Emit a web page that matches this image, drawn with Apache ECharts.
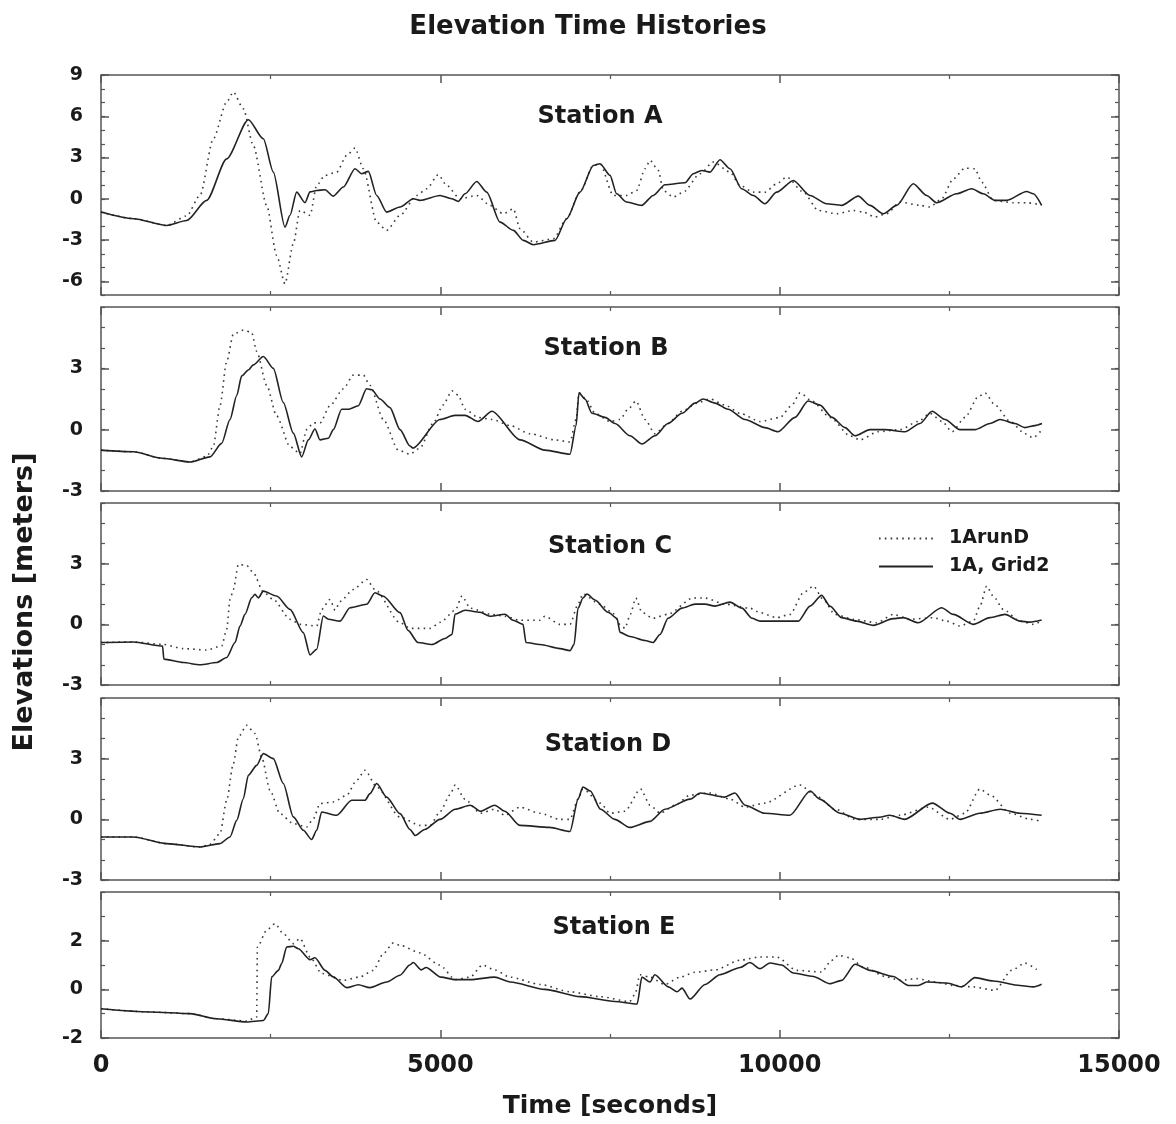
<!DOCTYPE html>
<html>
<head>
<meta charset="utf-8">
<title>Elevation Time Histories</title>
<script src="https://cdn.jsdelivr.net/npm/echarts@6/dist/echarts.min.js"></script>
<style>
  html, body { margin: 0; padding: 0; background: #fff; }
  #chart { width: 1176px; height: 1124px; }
</style>
</head>
<body>
<div id="chart"></div>
<script>
// ---- data: [time (s), elevation (m)] ----
const stationNames = ['Station A', 'Station B', 'Station C', 'Station D', 'Station E'];
const seriesNames = ['1ArunD', '1A, Grid2'];
const xTickLabels = [0, 5000, 10000, 15000];

const yLimitsA = [-7, 9], yLimitsB = [-3, 6], yLimitsC = [-3, 6], yLimitsD = [-3, 6], yLimitsE = [-2, 4];
const yTickLabelsA = [-6, -3, 0, 3, 6, 9];
const yTickLabelsB = [-3, 0, 3];
const yTickLabelsC = [-3, 0, 3];
const yTickLabelsD = [-3, 0, 3];
const yTickLabelsE = [-2, 0, 2];

const grid2A = [[0,-0.97],[480,-1.45],[968,-1.94],[1262,-1.58],[1557,-0.12],[1852,2.9],[2171,5.75],[2392,4.36],[2539,1.94],[2711,-2.06],[2785,-1.2],[2883,0.48],[3006,-0.29],[3080,0.5],[3178,0.6],[3301,0.65],[3423,0.19],[3571,0.85],[3743,2.18],[3841,1.82],[3939,1.99],[4062,0.24],[4209,-0.97],[4406,-0.6],[4603,0],[4700,-0.12],[4995,0.24],[5167,0],[5265,-0.19],[5364,0.36],[5536,1.26],[5683,0.48],[5880,-1.7],[6076,-2.3],[6223,-3.03],[6370,-3.34],[6690,-3.03],[6862,-1.45],[7058,0.48],[7255,2.42],[7353,2.55],[7500,1.7],[7598,0.36],[7745,-0.24],[7966,-0.48],[8138,0.24],[8310,1.02],[8605,1.16],[8728,1.82],[8851,2.06],[8974,1.94],[9121,2.84],[9268,2.18],[9440,0.73],[9612,0.24],[9784,-0.36],[9955,0.48],[10201,1.33],[10447,0.24],[10692,-0.36],[10913,-0.48],[11159,0.19],[11330,-0.48],[11527,-1.09],[11724,-0.48],[11969,1.09],[12166,0.24],[12313,-0.29],[12608,0.36],[12829,0.73],[13000,0.36],[13173,-0.12],[13345,-0.12],[13639,0.53],[13738,0.36],[13860,-0.48]];
const runDA = [[0,-0.97],[480,-1.45],[968,-1.94],[1262,-1.25],[1459,0.24],[1655,4.36],[1852,7.03],[1950,7.76],[2097,6.55],[2244,3.88],[2441,-0.48],[2588,-4.12],[2711,-6.18],[2834,-3.27],[2932,-0.85],[3080,-1.21],[3178,0.97],[3301,1.7],[3473,1.94],[3620,3.15],[3743,3.69],[3865,2.18],[4062,-1.7],[4209,-2.3],[4406,-1.21],[4652,0.24],[4799,0.73],[4970,1.75],[5094,0.97],[5290,0],[5536,0.24],[5732,-0.48],[5928,-1.09],[6076,-0.73],[6174,-2.18],[6370,-3.15],[6665,-2.91],[6862,-1.45],[7058,0.48],[7255,2.42],[7353,2.55],[7549,0.24],[7745,0.24],[7893,0.6],[8016,2.18],[8090,2.79],[8212,2.06],[8286,0.6],[8433,0.12],[8580,0.48],[8826,1.82],[9023,2.67],[9268,1.94],[9416,0.97],[9612,0.48],[9784,0.48],[9955,1.09],[10103,1.58],[10349,0.48],[10570,-0.85],[10840,-1.09],[11085,-0.85],[11233,-0.97],[11404,-1.33],[11576,-1.09],[11772,-0.24],[12068,-0.48],[12215,-0.6],[12387,0],[12559,1.45],[12731,2.23],[12878,2.18],[12976,1.21],[13148,-0.12],[13443,-0.29],[13639,-0.29],[13860,-0.44]];

const grid2B = [[0,-1.0],[475,-1.08],[900,-1.4],[1311,-1.58],[1606,-1.33],[1778,-0.67],[1901,0.5],[2000,1.67],[2073,2.63],[2171,2.92],[2244,3.17],[2392,3.58],[2539,3.0],[2686,1.33],[2834,-0.17],[2957,-1.33],[3055,-0.5],[3153,0.03],[3227,-0.5],[3350,-0.42],[3423,0],[3546,1.0],[3650,1.0],[3791,1.17],[3914,2.0],[3990,1.95],[4111,1.5],[4258,1.08],[4406,0],[4553,-0.8],[4597,-0.9],[4995,0.5],[5216,0.7],[5364,0.7],[5555,0.4],[5761,0.9],[6174,-0.5],[6542,-1.0],[6911,-1.2],[7000,0.2],[7043,1.8],[7132,1.5],[7235,0.8],[7426,0.6],[7574,0.3],[7795,-0.3],[7972,-0.7],[8163,-0.3],[8355,0.3],[8561,0.8],[8752,1.3],[8870,1.5],[9047,1.3],[9239,1.0],[9489,0.5],[9784,0.1],[9976,-0.1],[10226,0.6],[10418,1.4],[10595,1.2],[10771,0.6],[10963,0.1],[11110,-0.3],[11331,0],[11552,0],[11847,-0.1],[12068,0.3],[12245,0.9],[12437,0.5],[12657,0],[12878,0],[13099,0.3],[13247,0.5],[13468,0.3],[13615,0.1],[13762,0.2],[13866,0.3]];
const runDB = [[0,-1.0],[475,-1.08],[900,-1.4],[1311,-1.58],[1560,-1.3],[1655,-0.83],[1753,1.17],[1852,3.33],[1950,4.67],[2097,4.87],[2220,4.75],[2294,3.83],[2441,2.17],[2588,0.67],[2785,-0.83],[2932,-1.17],[3031,0],[3129,0.33],[3227,0.33],[3374,1.17],[3571,2.0],[3718,2.67],[3865,2.67],[3963,2.17],[4160,0.5],[4381,-1.0],[4553,-1.2],[4700,-0.9],[4892,0.3],[5039,1.2],[5172,1.9],[5261,1.7],[5364,1.0],[5555,0.6],[5761,0.5],[6027,0.2],[6321,-0.2],[6690,-0.5],[6911,-0.6],[7000,0.5],[7043,1.8],[7146,1.5],[7280,0.8],[7500,0.4],[7648,0.5],[7765,1.0],[7883,1.4],[8016,0.5],[8163,-0.2],[8355,0.3],[8561,0.9],[8782,1.3],[8974,1.5],[9195,1.2],[9416,0.8],[9710,0.4],[10005,0.6],[10182,1.2],[10300,1.8],[10477,1.4],[10742,0.6],[11037,-0.3],[11184,-0.5],[11450,-0.1],[11774,0],[12039,0.4],[12216,0.8],[12393,0.4],[12540,-0.1],[12732,0.6],[12923,1.6],[13026,1.8],[13174,1.2],[13395,0.4],[13616,-0.2],[13734,-0.4],[13866,0]];

const grid2C = [[0,-0.9],[475,-0.87],[907,-1.07],[926,-1.72],[1213,-1.89],[1459,-2.0],[1704,-1.89],[1852,-1.64],[1975,-0.9],[2048,-0.08],[2122,0.49],[2220,1.31],[2269,1.48],[2318,1.31],[2392,1.64],[2588,1.4],[2785,0.74],[2981,-0.41],[3080,-1.51],[3178,-1.23],[3276,0.41],[3350,0.25],[3522,0.16],[3669,0.82],[3914,0.99],[4037,1.56],[4160,1.39],[4406,0.58],[4524,-0.3],[4671,-0.9],[4877,-1.0],[5069,-0.7],[5172,-0.5],[5216,0.5],[5364,0.7],[5585,0.6],[5732,0.4],[5953,0.5],[6071,0.2],[6218,0],[6262,-0.9],[6469,-1.0],[6763,-1.2],[6911,-1.3],[6970,-1.0],[7029,0.8],[7102,1.3],[7161,1.5],[7279,1.2],[7471,0.6],[7603,0.3],[7648,-0.4],[7795,-0.6],[8016,-0.8],[8134,-0.9],[8237,-0.5],[8355,0.3],[8561,0.8],[8752,1.0],[8900,1.0],[9047,0.9],[9268,1.1],[9445,0.8],[9593,0.3],[9710,0.16],[10275,0.16],[10447,0.9],[10618,1.43],[10741,0.9],[10913,0.33],[11134,0.16],[11380,-0.05],[11674,0.28],[11822,0.33],[12043,0.08],[12387,0.82],[12559,0.49],[12853,0],[13099,0.33],[13320,0.49],[13541,0.16],[13688,0.11],[13860,0.21]];
const runDC = [[0,-0.9],[475,-0.87],[907,-0.99],[1213,-1.2],[1557,-1.27],[1778,-1.07],[1852,-0.25],[1901,1.23],[1950,1.72],[2024,2.96],[2147,2.91],[2244,2.55],[2392,1.6],[2539,1.23],[2785,0.25],[2932,0],[3178,-0.08],[3252,0.74],[3374,1.23],[3450,0.7],[3522,1.13],[3718,1.72],[3914,2.22],[4037,1.72],[4406,0.08],[4560,-0.2],[4850,-0.2],[5000,0.1],[5220,0.7],[5320,1.4],[5440,0.8],[5740,0.5],[5950,0.4],[6170,0.2],[6470,0.2],[6540,0.4],[6760,0],[6910,0],[7030,1.0],[7100,1.5],[7350,1.0],[7530,0.6],[7650,0],[7720,-0.2],[7800,0.5],[7880,1.3],[7970,0.6],[8130,0.3],[8355,0.5],[8720,1.3],[8900,1.3],[9190,1.0],[9560,0.8],[9710,0.58],[9955,0.33],[10152,0.49],[10349,1.56],[10496,1.89],[10643,1.23],[10815,0.49],[11085,0.25],[11429,0.08],[11674,0.49],[11920,0.25],[12264,0.33],[12461,0.16],[12657,-0.08],[12853,0.16],[12952,0.9],[13050,1.89],[13148,1.39],[13295,0.74],[13541,0.16],[13738,0],[13860,0.16]];

const grid2D = [[0,-0.87],[475,-0.87],[968,-1.2],[1459,-1.37],[1753,-1.2],[1901,-0.87],[2000,-0.05],[2097,1.02],[2171,2.18],[2294,2.67],[2392,3.25],[2539,3.0],[2686,1.77],[2834,0.12],[2981,-0.54],[3104,-1.0],[3178,-0.54],[3252,0.36],[3473,0.2],[3694,0.94],[3890,0.94],[3963,1.27],[4062,1.77],[4209,1.1],[4406,0.28],[4553,-0.5],[4630,-0.8],[4770,-0.5],[4995,0],[5220,0.5],[5440,0.7],[5590,0.4],[5800,0.7],[5950,0.4],[6170,-0.3],[6610,-0.4],[6910,-0.6],[7030,1.0],[7100,1.6],[7210,1.4],[7360,0.5],[7570,0],[7790,-0.4],[8090,-0.1],[8310,0.5],[8680,1.0],[8830,1.3],[9190,1.1],[9340,1.3],[9490,0.7],[9780,0.3],[10150,0.2],[10450,1.4],[10590,1.0],[10890,0.3],[11180,0],[11470,0.1],[11620,0.2],[11840,0],[12250,0.8],[12510,0.3],[12660,0],[12950,0.3],[13250,0.5],[13540,0.3],[13860,0.2]];
const runDD = [[0,-0.87],[475,-0.87],[968,-1.2],[1459,-1.37],[1600,-1.25],[1753,-0.71],[1852,0.94],[1950,2.76],[2024,4.07],[2147,4.65],[2269,4.24],[2367,3.08],[2490,1.44],[2637,0.28],[2834,-0.21],[3031,-0.38],[3129,0.03],[3227,0.78],[3423,0.86],[3620,1.19],[3767,1.93],[3890,2.43],[4062,1.6],[4406,0.11],[4700,-0.3],[4850,-0.3],[5000,0.4],[5140,1.2],[5220,1.7],[5360,1.0],[5590,0.3],[5800,0.5],[5950,0.2],[6170,0.6],[6470,0.3],[6760,0],[6910,0],[7030,1.0],[7100,1.5],[7360,0.8],[7500,0.3],[7720,0.4],[7950,1.5],[8090,0.7],[8240,0.3],[8460,0.7],[8680,1.2],[8970,1.3],[9270,1.0],[9490,0.6],[9780,0.8],[10300,1.7],[10520,1.2],[10820,0.5],[11110,0],[11480,0],[11770,0.2],[12190,0.6],[12510,0],[12730,0.3],[12950,1.5],[13100,1.2],[13400,0.3],[13690,0],[13860,-0.1]];

const grid2E = [[0,-0.8],[721,-0.93],[1311,-1.0],[1704,-1.21],[2147,-1.34],[2392,-1.28],[2465,-1.0],[2515,0.51],[2613,0.78],[2662,1.06],[2736,1.74],[2834,1.77],[2908,1.67],[3080,1.22],[3153,1.3],[3301,0.78],[3423,0.51],[3620,0.07],[3792,0.19],[3963,0.07],[4209,0.3],[4406,0.58],[4550,1.0],[4600,1.1],[4720,0.8],[4790,0.9],[5010,0.5],[5220,0.4],[5440,0.4],[5800,0.5],[6030,0.3],[6540,0],[7060,-0.3],[7570,-0.5],[7900,-0.6],[7970,0.5],[8090,0.3],[8160,0.6],[8360,0.1],[8490,-0.1],[8560,0.05],[8680,-0.4],[8900,0.2],[9120,0.6],[9420,0.9],[9560,1.1],[9710,0.85],[9857,1.08],[10029,1.0],[10201,0.67],[10496,0.53],[10741,0.23],[10913,0.37],[11110,1.03],[11330,0.78],[11674,0.53],[11896,0.16],[12043,0.16],[12166,0.3],[12461,0.26],[12682,0.1],[12878,0.48],[13148,0.34],[13541,0.16],[13738,0.1],[13860,0.21]];
const runDE = [[0,-0.8],[721,-0.93],[1311,-1.0],[1704,-1.21],[2147,-1.3],[2294,-1.14],[2304,1.74],[2441,2.43],[2564,2.7],[2686,2.29],[2834,1.88],[2932,2.09],[3080,1.33],[3252,0.65],[3571,0.37],[3816,0.51],[4012,0.78],[4160,1.47],[4308,1.91],[4406,1.81],[4700,1.5],[4990,1.0],[5220,0.4],[5440,0.5],[5620,1.0],[5800,0.8],[6030,0.5],[6470,0.2],[6910,-0.1],[7350,-0.3],[7790,-0.5],[7870,-0.2],[7940,0.6],[8090,0.5],[8310,0.2],[8530,0.5],[8750,0.7],[9050,0.8],[9420,1.2],[9710,1.33],[9955,1.33],[10250,0.78],[10618,0.71],[10765,1.19],[10864,1.4],[11036,1.3],[11232,0.92],[11576,0.51],[11773,0.37],[12018,0.44],[12300,0.3],[12559,0.16],[12853,0.1],[13173,-0.04],[13418,0.78],[13614,1.08],[13786,0.81]];

// ---- layout ----
const panels = [
  { top: 75,  height: 220, lim: yLimitsA, ticks: yTickLabelsA, runD: runDA, grid2: grid2A, label: [600, 117] },
  { top: 307, height: 184, lim: yLimitsB, ticks: yTickLabelsB, runD: runDB, grid2: grid2B, label: [606, 349] },
  { top: 503, height: 182, lim: yLimitsC, ticks: yTickLabelsC, runD: runDC, grid2: grid2C, label: [610, 547] },
  { top: 698, height: 182, lim: yLimitsD, ticks: yTickLabelsD, runD: runDD, grid2: grid2D, label: [608, 745] },
  { top: 892, height: 146, lim: yLimitsE, ticks: yTickLabelsE, runD: runDE, grid2: grid2E, label: [614, 928] }
];
const FONT = '"DejaVu Sans", "Liberation Sans", Arial, sans-serif';
const INK = '#1a1a1a';
const FRAME = '#555';
const DOT_COLOR = '#3a3a3a';
const LINE_COLOR = '#222';

function integersBetween(lo, hi) {
  const out = [];
  for (let v = lo; v <= hi; v++) out.push(v);
  return out;
}

const grid = [], xAxis = [], yAxis = [], series = [], graphic = [];

panels.forEach((p, i) => {
  grid.push({
    left: 101, right: 57, top: p.top, height: p.height,
    show: true, borderColor: FRAME, borderWidth: 1.5, backgroundColor: 'transparent'
  });

  const isLast = i === panels.length - 1;
  ['bottom', 'top'].forEach(pos => {
    xAxis.push({
      type: 'value', gridIndex: i, position: pos,
      min: xTickLabels[0], max: xTickLabels[xTickLabels.length - 1], interval: 5000,
      axisLine: { show: false, onZero: false },
      axisTick: { show: true, inside: true, length: 8, lineStyle: { color: FRAME, width: 1.5 } },
      minorTick: { show: true, splitNumber: 2, length: 4, lineStyle: { color: FRAME, width: 1.2 } },
      splitLine: { show: false },
      axisLabel: {
        show: isLast && pos === 'bottom', margin: 16,
        formatter: v => String(v),
        color: INK, fontFamily: FONT, fontWeight: 'bold', fontSize: 24
      }
    });
  });

  const minors = integersBetween(p.lim[0], p.lim[1]);
  [['left', true], ['left', false], ['right', true], ['right', false]].forEach(([pos, major]) => {
    yAxis.push({
      type: 'value', gridIndex: i, position: pos,
      min: p.lim[0], max: p.lim[1], interval: 1,
      axisLine: { show: false, onZero: false },
      splitLine: { show: false },
      axisTick: {
        show: true, inside: true, length: major ? 8 : 4,
        customValues: major ? p.ticks : minors,
        lineStyle: { color: FRAME, width: major ? 1.5 : 1.2 }
      },
      axisLabel: {
        show: major && pos === 'left', customValues: p.ticks, margin: 18,
        color: INK, fontFamily: FONT, fontWeight: 'bold', fontSize: 19
      }
    });
  });

  const common = {
    type: 'line', xAxisIndex: i * 2, yAxisIndex: i * 4,
    symbol: 'none', smooth: 0.25, smoothMonotone: 'x', animation: false
  };
  series.push(Object.assign({}, common, {
    name: seriesNames[0], data: p.runD, z: 2, color: DOT_COLOR,
    lineStyle: { color: DOT_COLOR, width: 1.6, type: [1.6, 4.2] }
  }));
  series.push(Object.assign({}, common, {
    name: seriesNames[1], data: p.grid2, z: 3, color: LINE_COLOR,
    lineStyle: { color: LINE_COLOR, width: 1.6, type: 'solid' }
  }));

  graphic.push({
    type: 'text', x: p.label[0], y: p.label[1],
    style: { text: stationNames[i], font: 'bold 24px ' + FONT, fill: INK, align: 'center', verticalAlign: 'middle' }
  });
});

graphic.push({
  type: 'text', x: 588, y: 27,
  style: { text: 'Elevation Time Histories', font: 'bold 26px ' + FONT, fill: INK, align: 'center', verticalAlign: 'middle' }
});
graphic.push({
  type: 'text', x: 610, y: 1106,
  style: { text: 'Time [seconds]', font: 'bold 25px ' + FONT, fill: INK, align: 'center', verticalAlign: 'middle' }
});
graphic.push({
  type: 'text', x: 25, y: 602, rotation: Math.PI / 2,
  style: { text: 'Elevations [meters]', font: 'bold 27px ' + FONT, fill: INK, align: 'center', verticalAlign: 'middle' }
});

const chart = echarts.init(document.getElementById('chart'), null, { renderer: 'canvas' });
chart.setOption({
  backgroundColor: '#fff',
  animation: false,
  color: [DOT_COLOR, LINE_COLOR],
  grid, xAxis, yAxis, series, graphic,
  legend: {
    data: seriesNames,
    orient: 'vertical', left: 873, top: 524,
    itemWidth: 54, itemHeight: 14, itemGap: 9,
    itemStyle: { opacity: 0 },
    textStyle: { color: INK, fontFamily: FONT, fontWeight: 'bold', fontSize: 19, padding: [0, 0, 0, 11] },
    selectedMode: false
  }
});
</script>
</body>
</html>
